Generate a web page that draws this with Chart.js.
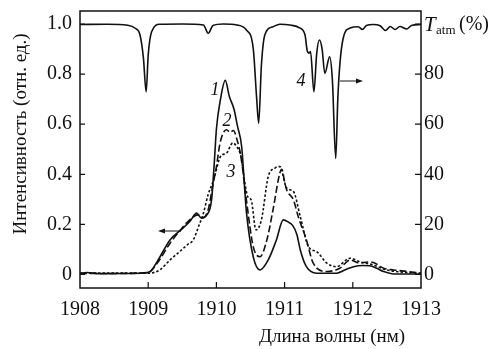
<!DOCTYPE html>
<html>
<head>
<meta charset="utf-8">
<script src="https://cdn.jsdelivr.net/npm/chart.js@4.4.1/dist/chart.umd.min.js"></script>
<style>
  body { margin: 0; background: #fff; }
  #spectrum { display: block; }
</style>
</head>
<body>
<canvas id="spectrum" width="501" height="349"></canvas>
<script>
// Данные
const waveT = [1908.0, 1908.4, 1908.7, 1908.81, 1908.88, 1908.93, 1908.97, 1909.0, 1909.05, 1909.17,
  1909.5, 1909.81, 1909.88, 1909.95, 1910.1, 1910.3, 1910.44, 1910.54, 1910.59, 1910.62,
  1910.66, 1910.71, 1910.83, 1910.93, 1911.08, 1911.22, 1911.3, 1911.33, 1911.36, 1911.38,
  1911.43, 1911.47, 1911.51, 1911.55, 1911.59, 1911.66, 1911.7, 1911.75, 1911.78, 1911.81,
  1911.86, 1911.96, 1912.08, 1912.14, 1912.2, 1912.3, 1912.4, 1912.48, 1912.55, 1912.62,
  1912.69, 1912.79, 1912.86, 1913.0];
const transT = [99.8, 99.9, 99.5, 98.3, 95.6, 86.4, 72.9, 87.6, 96.9, 99.9,
  100, 99.6, 96.3, 99.4, 100, 99.6, 97.6, 90.3, 70.4, 60.4,
  83.6, 95.6, 98.9, 99.9, 99.6, 98.5, 95.6, 89.5, 88.4, 89,
  72.9, 88, 93.6, 90, 80.3, 86.9, 78, 46.3, 70, 83.8,
  94.4, 98.4, 98.9, 97.8, 99.4, 99.8, 99.3, 97.4, 99, 97.8,
  99, 98, 99.4, 99.8];

const wave1 = [1908.0, 1908.1, 1908.3, 1908.6, 1908.9, 1909.03, 1909.15, 1909.32, 1909.51, 1909.62,
  1909.71, 1909.78, 1909.86, 1909.93, 1909.97, 1910.0, 1910.06, 1910.13, 1910.19, 1910.26,
  1910.31, 1910.37, 1910.44, 1910.54, 1910.64, 1910.76, 1910.88, 1910.98, 1911.05, 1911.12,
  1911.18, 1911.23, 1911.32, 1911.47, 1911.76, 1911.9, 1912.01, 1912.15, 1912.25, 1912.35,
  1912.45, 1912.6, 1913.0];
const int1 = [0.005, 0.008, 0.003, 0.004, 0.005, 0.012, 0.06, 0.138, 0.185, 0.215,
  0.245, 0.225, 0.238, 0.30, 0.45, 0.58, 0.70, 0.775, 0.711, 0.658,
  0.591, 0.511, 0.25, 0.071, 0.018, 0.058, 0.138, 0.218, 0.21, 0.195,
  0.16, 0.098, 0.031, 0.005, 0.005, 0.02, 0.031, 0.036, 0.035, 0.025,
  0.012, 0.002, 0.002];

const wave2 = [1908.0, 1908.5, 1909.0, 1909.12, 1909.32, 1909.45, 1909.56, 1909.73, 1909.81, 1909.88,
  1909.95, 1910.0, 1910.05, 1910.1, 1910.15, 1910.2, 1910.25, 1910.3, 1910.36, 1910.44,
  1910.54, 1910.64, 1910.74, 1910.83, 1910.93, 1910.96, 1911.0, 1911.03, 1911.13, 1911.2,
  1911.32, 1911.42, 1911.62, 1911.81, 1911.96, 1912.1, 1912.22, 1912.3, 1912.45, 1912.6,
  1912.8, 1913.0];
const int2 = [0.004, 0.004, 0.008, 0.04, 0.125, 0.17, 0.205, 0.238, 0.228, 0.26,
  0.36, 0.43, 0.52, 0.565, 0.578, 0.568, 0.575, 0.54, 0.47, 0.297,
  0.111, 0.071, 0.138, 0.258, 0.405, 0.42, 0.37, 0.338, 0.298, 0.231,
  0.138, 0.045, 0.012, 0.025, 0.058, 0.045, 0.05, 0.048, 0.025, 0.018,
  0.012, 0.005];

const wave3 = [1908.0, 1908.5, 1909.0, 1909.17, 1909.32, 1909.46, 1909.58, 1909.66, 1909.75, 1909.81,
  1909.88, 1909.96, 1910.06, 1910.15, 1910.24, 1910.3, 1910.36, 1910.41, 1910.46, 1910.51,
  1910.58, 1910.66, 1910.76, 1910.86, 1910.93, 1911.03, 1911.13, 1911.23, 1911.35, 1911.47,
  1911.62, 1911.76, 1911.96, 1912.1, 1912.3, 1912.5, 1912.8, 1913.0];
const int3 = [0.005, 0.006, 0.005, 0.018, 0.058, 0.091, 0.12, 0.138, 0.2, 0.245,
  0.32, 0.378, 0.471, 0.485, 0.525, 0.51, 0.47, 0.378, 0.31, 0.298,
  0.178, 0.218, 0.391, 0.425, 0.431, 0.345, 0.331, 0.231, 0.111, 0.091,
  0.045, 0.031, 0.065, 0.051, 0.038, 0.018, 0.008, 0.005];

const xTicks = [1908, 1909, 1910, 1911, 1912, 1913];
const leftTicks = [0, 0.2, 0.4, 0.6, 0.8, 1.0];
const rightTicks = [0, 20, 40, 60, 80];

const serif = "'Liberation Serif', 'Times New Roman', serif";
Chart.defaults.font.family = serif;
Chart.defaults.color = '#111';

function toPoints(xs, ys) {
  return xs.map((x, i) => ({ x: x, y: ys[i] }));
}

function lineSet(xs, ys, dash, axis) {
  return {
    data: toPoints(xs, ys),
    yAxisID: axis,
    borderColor: '#111',
    borderWidth: 1.6,
    borderDash: dash,
    pointRadius: 0,
    fill: false,
    cubicInterpolationMode: 'monotone'
  };
}

function arrow(ctx, x1, x2, y) {
  // стрелка от x1 к x2
  const dir = x2 > x1 ? 1 : -1;
  ctx.beginPath();
  ctx.moveTo(x1, y);
  ctx.lineTo(x2 - dir * 5, y);
  ctx.stroke();
  ctx.beginPath();
  ctx.moveTo(x2, y);
  ctx.lineTo(x2 - dir * 7, y - 2.5);
  ctx.lineTo(x2 - dir * 7, y + 2.5);
  ctx.closePath();
  ctx.fill();
}

// фиксированные размеры осей, без авто-отступов под подписи
function fixSize(w, h) {
  return s => {
    if (w) s.width = w;
    if (h) s.height = h;
    s.paddingTop = 0; s.paddingBottom = 0;
    s.paddingLeft = 0; s.paddingRight = 0;
  };
}

// Рамка, внутренние засечки и подписи
const decorations = {
  id: 'decorations',
  afterDraw(chart) {
    const ctx = chart.ctx;
    const a = chart.chartArea;
    const sx = chart.scales.x, sy = chart.scales.y, sy2 = chart.scales.y2;
    ctx.save();
    ctx.strokeStyle = '#111';
    ctx.fillStyle = '#111';
    ctx.lineWidth = 1.5;
    ctx.strokeRect(a.left, a.top, a.right - a.left, a.bottom - a.top);

    ctx.lineWidth = 1.2;
    ctx.beginPath();
    xTicks.slice(1, -1).forEach(v => {
      const px = sx.getPixelForValue(v);
      ctx.moveTo(px, a.bottom);
      ctx.lineTo(px, a.bottom - 6);
    });
    leftTicks.forEach(v => {
      const py = sy.getPixelForValue(v);
      ctx.moveTo(a.left, py);
      ctx.lineTo(a.left + 5, py);
    });
    rightTicks.concat([100]).forEach(v => {
      const py = sy2.getPixelForValue(v);
      ctx.moveTo(a.right, py);
      ctx.lineTo(a.right - 6, py);
    });
    ctx.stroke();

    // подписи осей
    ctx.font = '19px ' + serif;
    ctx.textBaseline = 'middle';
    ctx.textAlign = 'center';
    ctx.fillText('Длина волны (нм)', 332, 337);

    ctx.save();
    ctx.translate(21, 134);
    ctx.rotate(-Math.PI / 2);
    ctx.fillText('Интенсивность (отн. ед.)', 0, 0);
    ctx.restore();

    // T_atm (%)
    ctx.textAlign = 'left';
    ctx.textBaseline = 'alphabetic';
    ctx.font = 'italic 21px ' + serif;
    ctx.fillText('T', 424, 31);
    ctx.font = '13px ' + serif;
    ctx.fillText('atm', 436, 34);
    ctx.font = '20px ' + serif;
    ctx.fillText('(%)', 459, 30);

    // номера кривых
    ctx.font = 'italic 18px ' + serif;
    ctx.textAlign = 'center';
    ctx.textBaseline = 'middle';
    ctx.fillText('1', 215, 90);
    ctx.fillText('2', 227, 121);
    ctx.fillText('3', 231, 172);
    ctx.fillText('4', 301, 81);

    ctx.lineWidth = 1;
    arrow(ctx, 181, 158, 231);
    arrow(ctx, 340, 363, 81);
    ctx.restore();
  }
};

const tickFont = { family: serif, size: 20 };

const ctx = document.getElementById('spectrum').getContext('2d');
new Chart(ctx, {
  type: 'line',
  data: {
    datasets: [
      lineSet(waveT, transT, [], 'y2'),
      lineSet(wave1, int1, [], 'y'),
      lineSet(wave2, int2, [7, 3], 'y'),
      lineSet(wave3, int3, [2.5, 2], 'y')
    ]
  },
  options: {
    responsive: false,
    animation: false,
    devicePixelRatio: 1,
    layout: { padding: { top: 11, left: 0, right: 0, bottom: 0 } },
    plugins: { legend: { display: false }, tooltip: { enabled: false } },
    scales: {
      x: {
        type: 'linear',
        min: 1908,
        max: 1913,
        afterBuildTicks: s => { s.ticks = xTicks.map(v => ({ value: v })); },
        afterFit: fixSize(0, 61),
        grid: { display: false, drawTicks: false },
        border: { display: false },
        ticks: { color: '#111', padding: 10, maxRotation: 0, font: tickFont,
          callback: v => String(v) }
      },
      y: {
        position: 'left',
        min: -0.054,
        max: 1.052,
        afterBuildTicks: s => { s.ticks = leftTicks.map(v => ({ value: v })); },
        afterFit: fixSize(80, 0),
        grid: { display: false, drawTicks: false },
        border: { display: false },
        ticks: { color: '#111', padding: 8, font: tickFont,
          callback: v => v === 0 ? '0' : v.toFixed(1) }
      },
      y2: {
        position: 'right',
        min: -5.4,
        max: 105.2,
        afterBuildTicks: s => { s.ticks = rightTicks.map(v => ({ value: v })); },
        afterFit: fixSize(80, 0),
        grid: { display: false, drawTicks: false },
        border: { display: false },
        ticks: { color: '#111', padding: 3, font: tickFont,
          callback: v => String(v) }
      }
    }
  },
  plugins: [decorations]
});
</script>
</body>
</html>
